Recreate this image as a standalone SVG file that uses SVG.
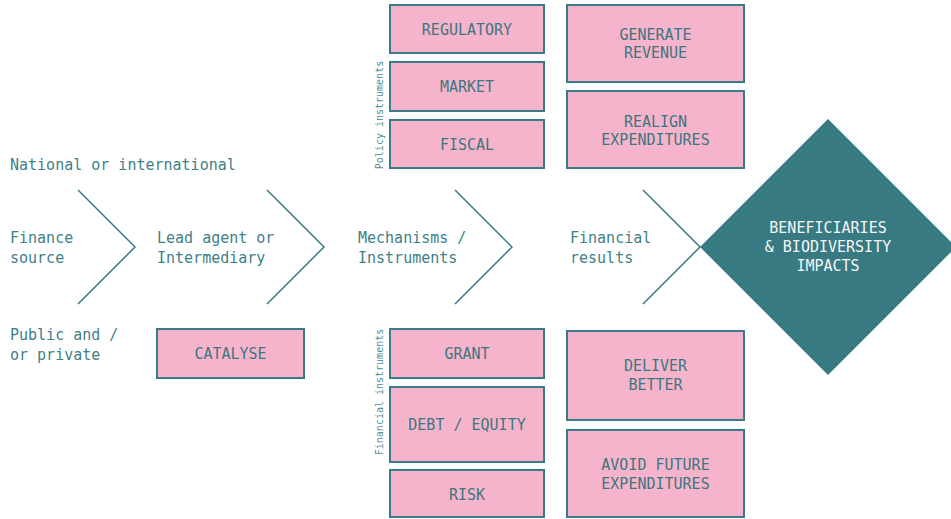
<svg xmlns="http://www.w3.org/2000/svg" width="951" height="519" viewBox="0 0 951 519">
<style>
.bg{fill:#ffffff}
.box{fill:#f5b4cb;stroke:#3a7c85;stroke-width:2}
.chev{fill:none;stroke:#3a7c85;stroke-width:1.5}
.lbl{font-family:"DejaVu Sans Mono","Liberation Mono",monospace;font-size:15px;fill:#3e7f88}
.bt{font-family:"DejaVu Sans Mono","Liberation Mono",monospace;font-size:15px;fill:#3e7680;text-anchor:middle}
.dt{font-family:"DejaVu Sans Mono","Liberation Mono",monospace;font-size:15px;fill:#f3f6f6;text-anchor:middle}
.side{font-family:"DejaVu Sans Mono","Liberation Mono",monospace;font-size:10px;fill:#4f8f97;text-anchor:middle}
</style>
<rect class="bg" x="0" y="0" width="951" height="519"/>
<g id="connectors">
<polyline class="chev" points="78,190 135,247 78,304"/>
<polyline class="chev" points="267,190 324,247 267,304"/>
<polyline class="chev" points="455,190 512,247 455,304"/>
<polyline class="chev" points="643,190 700,247 643,304"/>
</g>
<g id="finance-source">
<text class="lbl" x="10" y="170">National or international</text>
<text class="lbl" x="10" y="243">Finance</text>
<text class="lbl" x="10" y="263">source</text>
<text class="lbl" x="10" y="340">Public and /</text>
<text class="lbl" x="10" y="360">or private</text>
</g>
<g id="lead-agent">
<text class="lbl" x="157" y="243">Lead agent or</text>
<text class="lbl" x="157" y="263">Intermediary</text>
</g>
<g id="catalyse">
<rect class="box" x="157" y="329" width="147" height="49"/>
<text class="bt" x="230.5" y="359">CATALYSE</text>
</g>
<g id="mechanisms">
<text class="lbl" x="358" y="243">Mechanisms /</text>
<text class="lbl" x="358" y="263">Instruments</text>
</g>
<g id="policy-label">
<text class="side" transform="translate(382.5,115) rotate(-90)">Policy instruments</text>
</g>
<g id="regulatory">
<rect class="box" x="390" y="5" width="154" height="48"/>
<text class="bt" x="467" y="35">REGULATORY</text>
</g>
<g id="market">
<rect class="box" x="390" y="62" width="154" height="49"/>
<text class="bt" x="467" y="92">MARKET</text>
</g>
<g id="fiscal">
<rect class="box" x="390" y="120" width="154" height="48"/>
<text class="bt" x="467" y="150">FISCAL</text>
</g>
<g id="financial-label">
<text class="side" transform="translate(382.5,392) rotate(-90)">Financial instruments</text>
</g>
<g id="grant">
<rect class="box" x="390" y="329" width="154" height="49"/>
<text class="bt" x="467" y="359">GRANT</text>
</g>
<g id="debt-equity">
<rect class="box" x="390" y="387" width="154" height="75"/>
<text class="bt" x="467" y="430">DEBT / EQUITY</text>
</g>
<g id="risk">
<rect class="box" x="390" y="470" width="154" height="47"/>
<text class="bt" x="467" y="500">RISK</text>
</g>
<g id="financial-results">
<text class="lbl" x="570" y="243">Financial</text>
<text class="lbl" x="570" y="263">results</text>
</g>
<g id="generate-revenue">
<rect class="box" x="567" y="5" width="177" height="77"/>
<text class="bt" x="655.5" y="40">GENERATE</text>
<text class="bt" x="655.5" y="58">REVENUE</text>
</g>
<g id="realign">
<rect class="box" x="567" y="91" width="177" height="77"/>
<text class="bt" x="655.5" y="127">REALIGN</text>
<text class="bt" x="655.5" y="145">EXPENDITURES</text>
</g>
<g id="deliver-better">
<rect class="box" x="567" y="331" width="177" height="89"/>
<text class="bt" x="655.5" y="371">DELIVER</text>
<text class="bt" x="655.5" y="390">BETTER</text>
</g>
<g id="avoid-future">
<rect class="box" x="567" y="430" width="177" height="87"/>
<text class="bt" x="655.5" y="470">AVOID FUTURE</text>
<text class="bt" x="655.5" y="489">EXPENDITURES</text>
</g>
<g id="beneficiaries">
<polygon points="828,119 956,247 828,375 700,247" fill="#387a82"/>
<text class="dt" x="828" y="233">BENEFICIARIES</text>
<text class="dt" x="828" y="252">&amp; BIODIVERSITY</text>
<text class="dt" x="828" y="271">IMPACTS</text>
</g>
</svg>
